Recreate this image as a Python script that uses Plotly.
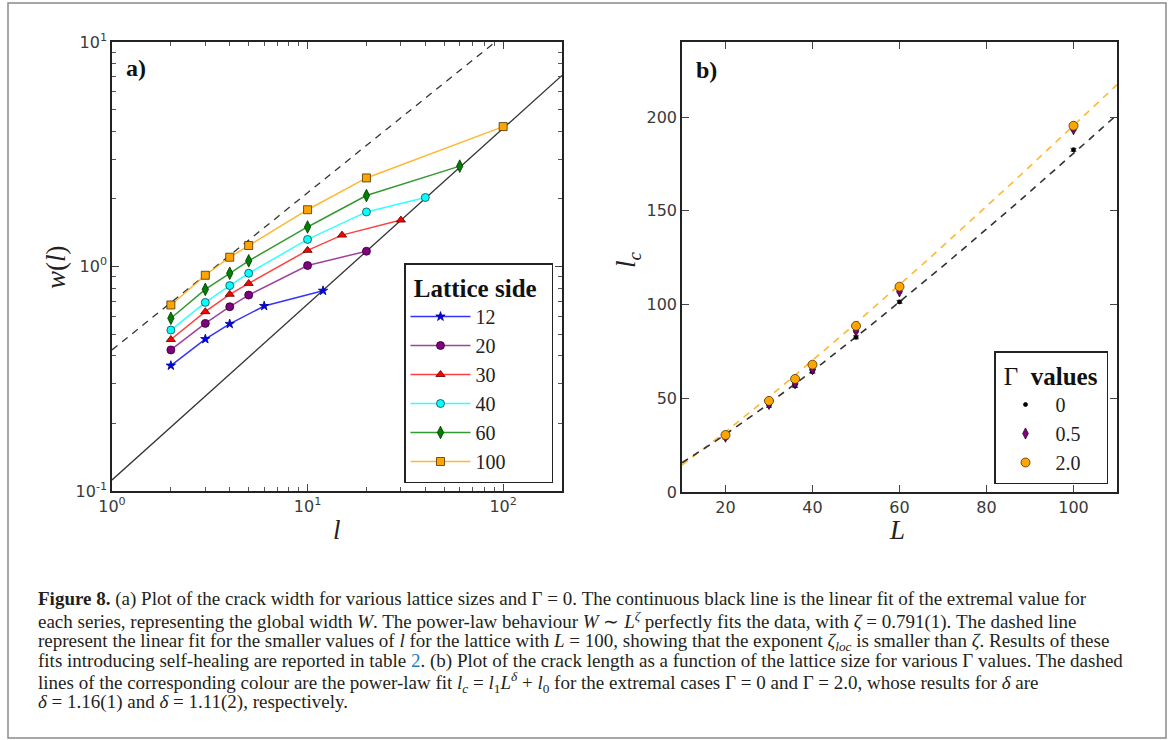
import numpy as np
import plotly.graph_objects as go

W, H = 1168, 740

# ---------------- Panel a data ----------------
series_names = ["12", "20", "30", "40", "60", "100"]
l_12 = [2, 3, 4, 6, 12]
w_12 = [0.362, 0.475, 0.555, 0.667, 0.780]
l_20 = [2, 3, 4, 5, 10, 20]
w_20 = [0.425, 0.558, 0.662, 0.746, 1.01, 1.17]
l_30 = [2, 3, 4, 5, 10, 15, 30]
w_30 = [0.473, 0.629, 0.752, 0.841, 1.18, 1.38, 1.61]
l_40 = [2, 3, 4, 5, 10, 20, 40]
w_40 = [0.521, 0.692, 0.822, 0.933, 1.32, 1.75, 2.03]
l_60 = [2, 3, 4, 5, 10, 20, 60]
w_60 = [0.588, 0.791, 0.933, 1.06, 1.50, 2.07, 2.80]
l_100 = [2, 3, 4, 5, 10, 20, 100]
w_100 = [0.674, 0.914, 1.10, 1.24, 1.79, 2.48, 4.20]

# global fit (solid) and local fit (dashed): w = A * l^zeta
global_fit = {"A": 0.112, "zeta": 0.783}
local_fit = {"A": 0.425, "zeta": 0.700}

# ---------------- Panel b data ----------------
L_vals = [20, 30, 36, 40, 50, 60, 100]
lc_g0 = [29.0, 46.0, 56.6, 64.2, 82.5, 101.4, 182.5]
lc_g05 = [29.5, 47.0, 58.0, 65.5, 86.0, 107.0, 193.5]
lc_g2 = [30.4, 48.6, 60.3, 67.9, 88.6, 109.5, 195.3]
lc_err = [0.8, 0.8, 0.8, 0.8, 0.8, 0.8, 0.8]
# power-law fits l_c = l1 * L^delta + l0
fit_g0 = {"l1": 0.848, "delta": 1.16, "l0": 3.35}
fit_g2 = {"l1": 1.182, "delta": 1.11, "l0": -0.82}

gamma_labels = ["0", "0.5", "2.0"]

# ---------------- layout geometry ----------------
def px(x):
    return x / W

def py(y):
    return 1 - y / H

SERIF = "Liberation Serif"
SANS = "DejaVu Sans"
NB = "\u00a0"

fig = go.Figure()

style_a = [
    (l_12, w_12, "#0000ff", "star", 7, "#00008b"),
    (l_20, w_20, "#800080", "circle", 8, "#2a002a"),
    (l_30, w_30, "#ff0000", "triangle-up", 8, "#550000"),
    (l_40, w_40, "#00ffff", "circle", 8, "#1f3f3f"),
    (l_60, w_60, "#008000", "diamond-tall", 9, "#003000"),
    (l_100, w_100, "#ffa500", "square", 8, "#4a3000"),
]
line_cols = ["rgba(0,0,255,0.8)", "rgba(128,0,128,0.75)", "rgba(255,0,0,0.75)",
             "rgba(0,255,255,0.8)", "rgba(0,128,0,0.8)", "rgba(255,165,0,0.8)"]

# fit lines in panel a
l_line = [1.0, 200.0]
fig.add_trace(go.Scatter(
    x=l_line, y=[global_fit["A"] * v ** global_fit["zeta"] for v in l_line],
    mode="lines", line=dict(color="#333333", width=1.3),
    showlegend=False, xaxis="x", yaxis="y", hoverinfo="skip"))
fig.add_trace(go.Scatter(
    x=l_line, y=[local_fit["A"] * v ** local_fit["zeta"] for v in l_line],
    mode="lines", line=dict(color="#333333", width=1.3, dash="7px,6px"),
    showlegend=False, xaxis="x", yaxis="y", hoverinfo="skip"))

for (xs, ys, col, sym, size, edge), name, lc in zip(style_a, series_names, line_cols):
    fig.add_trace(go.Scatter(
        x=xs, y=ys, name=name, mode="lines+markers",
        line=dict(color=lc, width=1.5),
        marker=dict(color=col, symbol=sym, size=size, line=dict(color=edge, width=0.8)),
        xaxis="x", yaxis="y", legend="legend"))

# ---------------- panel b traces ----------------
L_line = np.linspace(10, 110, 60)
fig.add_trace(go.Scatter(
    x=L_line, y=fit_g2["l1"] * L_line ** fit_g2["delta"] + fit_g2["l0"],
    mode="lines", line=dict(color="rgba(255,165,0,0.8)", width=1.6, dash="7px,6px"),
    showlegend=False, xaxis="x2", yaxis="y2", hoverinfo="skip"))
fig.add_trace(go.Scatter(
    x=L_line, y=fit_g0["l1"] * L_line ** fit_g0["delta"] + fit_g0["l0"],
    mode="lines", line=dict(color="#333333", width=1.6, dash="7px,6px"),
    showlegend=False, xaxis="x2", yaxis="y2", hoverinfo="skip"))

style_b = [
    (lc_g0, "#000000", "circle", 4, "#000000", "rgba(0,0,0,0.7)"),
    (lc_g05, "#800080", "diamond-tall", 8, "#2a002a", "rgba(128,0,128,0.6)"),
    (lc_g2, "#ffa500", "circle", 9, "#4a3000", "rgba(255,165,0,0.6)"),
]
for (ys, col, sym, size, edge, ecol), name in zip(style_b, gamma_labels):
    fig.add_trace(go.Scatter(
        x=L_vals, y=ys, name=name, mode="markers",
        marker=dict(color=col, symbol=sym, size=size, line=dict(color=edge, width=0.8)),
        error_y=dict(type="data", array=lc_err, color=ecol, thickness=1, width=3),
        xaxis="x2", yaxis="y2", legend="legend2"))

# ---------------- axes ----------------
minor_a_x = [m * 10 ** d for d in range(0, 3) for m in range(2, 10) if m * 10 ** d < 200]
minor_a_y = [m * 10 ** d for d in range(-1, 1) for m in range(2, 10)]

axis_common = dict(showline=True, linecolor="#222222", linewidth=1.5, mirror="allticks",
                   ticks="inside", ticklen=7, tickwidth=1, tickcolor="#444444",
                   showgrid=False, zeroline=False, automargin=False,
                   tickfont=dict(family=SANS, size=16, color="#3a3a3a"))

fig.update_layout(
    width=W, height=H, margin=dict(l=0, r=0, t=0, b=0, autoexpand=False),
    paper_bgcolor="white", plot_bgcolor="white",
    xaxis=dict(axis_common, type="log", range=[0, np.log10(200)],
               domain=[px(112), px(562)], anchor="y",
               tickmode="array", tickvals=[1, 10, 100],
               ticktext=["10<sup>0</sup>", "10<sup>1</sup>", "10<sup>2</sup>"],
               minor=dict(tickmode="array", tickvals=minor_a_x, ticks="inside",
                          ticklen=4, tickcolor="#555555")),
    yaxis=dict(axis_common, type="log", range=[-1, 1],
               domain=[py(491), py(42)], anchor="x",
               tickmode="array", tickvals=[0.1, 1, 10],
               ticktext=["10<sup>-1</sup>", "10<sup>0</sup>", "10<sup>1</sup>"],
               minor=dict(tickmode="array", tickvals=minor_a_y, ticks="inside",
                          ticklen=4, tickcolor="#555555")),
    xaxis2=dict(axis_common, range=[10, 110], domain=[px(682), px(1117)], anchor="y2",
                tickmode="array", tickvals=[20, 40, 60, 80, 100]),
    yaxis2=dict(axis_common, range=[0, 240], domain=[py(492), py(42)], anchor="x2",
                tickmode="array", tickvals=[0, 50, 100, 150, 200]),
    legend=dict(x=px(404), y=py(263), xanchor="left", yanchor="top",
                bgcolor="white", bordercolor="#222222", borderwidth=1.5,
                font=dict(family=SERIF, size=20, color="#222"),
                title=dict(text=NB + "<b>Lattice side</b>" + NB + NB,
                           font=dict(family=SERIF, size=25, color="#111"), side="top"),
                itemwidth=60),
    legend2=dict(x=px(994), y=py(351), xanchor="left", yanchor="top",
                 bgcolor="white", bordercolor="#222222", borderwidth=1.5,
                 font=dict(family=SERIF, size=20, color="#222"),
                 title=dict(text=NB + "Γ" + NB + NB + "<b>values</b>" + NB,
                            font=dict(family=SERIF, size=25, color="#111"), side="top"),
                 itemwidth=50),
    showlegend=True,
)

# axis titles (as annotations, fixed positions)
axis_titles = [
    ("<i>w</i>(<i>l</i>)", 56, 267, -90),
    ("<i>l</i>", 337, 530, 0),
    ("<i>l<sub>c</sub></i>", 628, 260, -90),
    ("<i>L</i>", 897, 530, 0),
]
for txt, xx, yy, ang in axis_titles:
    fig.add_annotation(text=txt, x=px(xx), y=py(yy), xref="paper", yref="paper",
                       xanchor="center", yanchor="middle", showarrow=False, textangle=ang,
                       font=dict(family=SERIF, size=27, color="#222"))

# panel labels
fig.add_annotation(text="<b>a)</b>", x=px(124), y=py(68), xref="paper", yref="paper",
                   xanchor="left", yanchor="middle", showarrow=False,
                   font=dict(family=SERIF, size=24, color="#111"))
fig.add_annotation(text="<b>b)</b>", x=px(694), y=py(70), xref="paper", yref="paper",
                   xanchor="left", yanchor="middle", showarrow=False,
                   font=dict(family=SERIF, size=24, color="#111"))

# outer frame
fig.add_shape(type="rect", xref="paper", yref="paper",
              x0=px(8), x1=px(1166), y0=py(738), y1=py(3),
              line=dict(color="#8a8a8a", width=1.5), layer="above")

# caption
caption_lines = [
    "<b>Figure 8.</b> (a) Plot of the crack width for various lattice sizes and Γ = 0. The continuous black line is the linear fit of the extremal value for",
    "each series, representing the global width <i>W</i>. The power-law behaviour <i>W</i> ∼ <i>L</i><sup><i>ζ</i></sup> perfectly fits the data, with <i>ζ</i> = 0.791(1). The dashed line",
    "represent the linear fit for the smaller values of <i>l</i> for the lattice with <i>L</i> = 100, showing that the exponent <i>ζ<sub>loc</sub></i> is smaller than <i>ζ</i>. Results of these",
    "fits introducing self-healing are reported in table <span style='color:#1f7bbf'>2</span>. (b) Plot of the crack length as a function of the lattice size for various Γ values. The dashed",
    "lines of the corresponding colour are the power-law fit <i>l<sub>c</sub></i> = <i>l</i><sub>1</sub><i>L</i><sup><i>δ</i></sup> + <i>l</i><sub>0</sub> for the extremal cases Γ = 0 and Γ = 2.0, whose results for <i>δ</i> are",
    "<i>δ</i> = 1.16(1) and <i>δ</i> = 1.11(2), respectively.",
]
caption_y = [599, 620, 642, 661, 682, 702]
for txt, yy in zip(caption_lines, caption_y):
    fig.add_annotation(text=txt, x=px(36), y=py(yy), xref="paper", yref="paper",
                       xanchor="left", yanchor="middle", showarrow=False, align="left",
                       font=dict(family=SERIF, size=19, color="#231f20"))

fig.write_html("out.html", config={"displayModeBar": False},
               post_script="document.body.style.margin='0px';document.body.style.overflow='hidden';")
